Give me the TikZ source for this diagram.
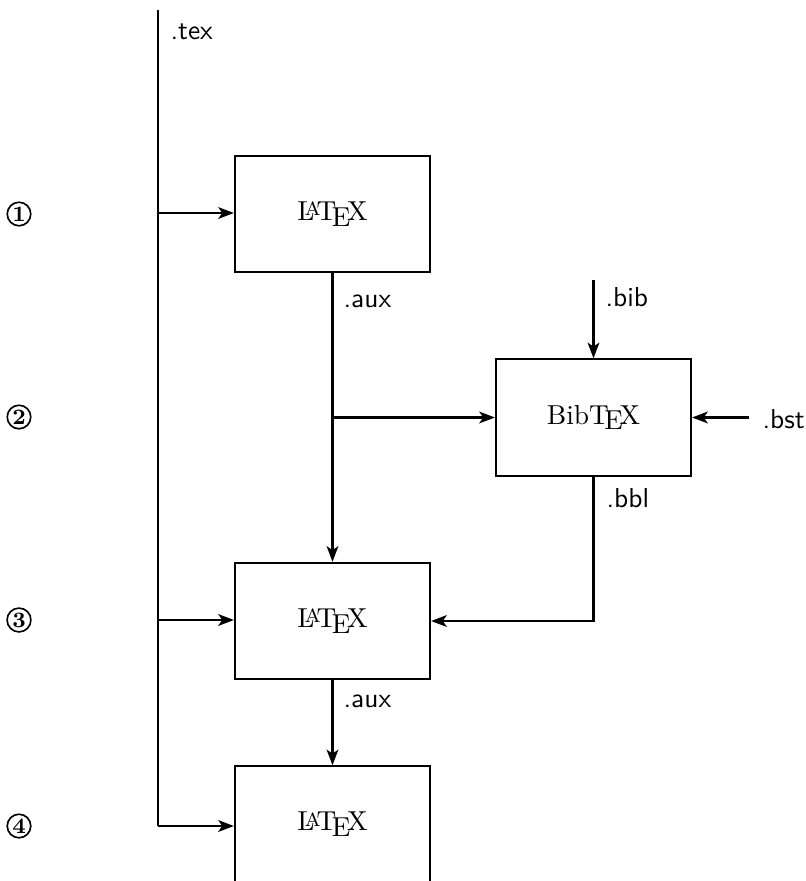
\documentclass[tikz,border=0pt]{standalone}
\usetikzlibrary{arrows.meta}
\begin{document}
\begin{tikzpicture}[x=0.012821cm,y=-0.012821cm,
  prog/.style={draw,thick,minimum width=2.5cm,minimum height=1.49cm,inner sep=0pt},
  flow/.style={thick,-{Stealth[length=2mm,width=1.5mm,inset=0.5mm]}},
  ext/.style={font=\sffamily,inner sep=0pt},
  stepnum/.style={draw,circle,line width=0.6pt,inner sep=0.5pt,minimum size=0.28cm,font=\bfseries\footnotesize}]
\clip (0,0) rectangle (806,881);
% program boxes
\node[prog] (l1) at (332.5,214) {\LaTeX};
\node[prog] (bib) at (593.5,417.5) {Bib\TeX};
\node[prog] (l2) at (332.5,621) {\LaTeX};
\node[prog] (l3) at (332.5,824.5) {\LaTeX};
% step numbers
\node[stepnum] (n1) at (19,214) {1};
\node[stepnum] (n2) at (19,417) {2};
\node[stepnum] (n3) at (19,620) {3};
\node[stepnum] (n4) at (19,826) {4};
% tex line
\coordinate (top) at (158,10);
\coordinate (t1) at (158,213);
\coordinate (t2) at (158,620);
\coordinate (t3) at (158,826);
\node[ext,anchor=west] (tex) at (170,32) {.tex};
\draw[thick] (top) -- (t3);
\draw[flow] (t1) -- (t1 -| l1.west);
\draw[flow] (t2) -- (t2 -| l2.west);
\draw[flow] (t3) -- (t3 -| l3.west);
% aux from first latex
\coordinate (branch) at (332.5,417.5);
\draw[flow] (l1.south) -- (l2.north);
\draw[flow] (branch) -- (bib.west);
\node[ext,anchor=west] (aux1) at (343,301) {.aux};
% bib and bst
\coordinate (bibin) at (593.5,280);
\draw[flow] (bibin) -- (bib.north);
\node[ext,anchor=west] (bibl) at (605,297) {.bib};
\coordinate (bstin) at (749,417.5);
\draw[flow] (bstin) -- (bib.east);
\node[ext,anchor=west] (bstl) at (762,419) {.bst};
% bbl
\coordinate (bblc) at (593.5,621);
\draw[flow] (bib.south) -- (bblc) -- (l2.east);
\node[ext,anchor=west] (bbll) at (606,498) {.bbl};
% aux second
\draw[flow] (l2.south) -- (l3.north);
\node[ext,anchor=west] (aux2) at (343,701) {.aux};
\end{tikzpicture}
\end{document}
